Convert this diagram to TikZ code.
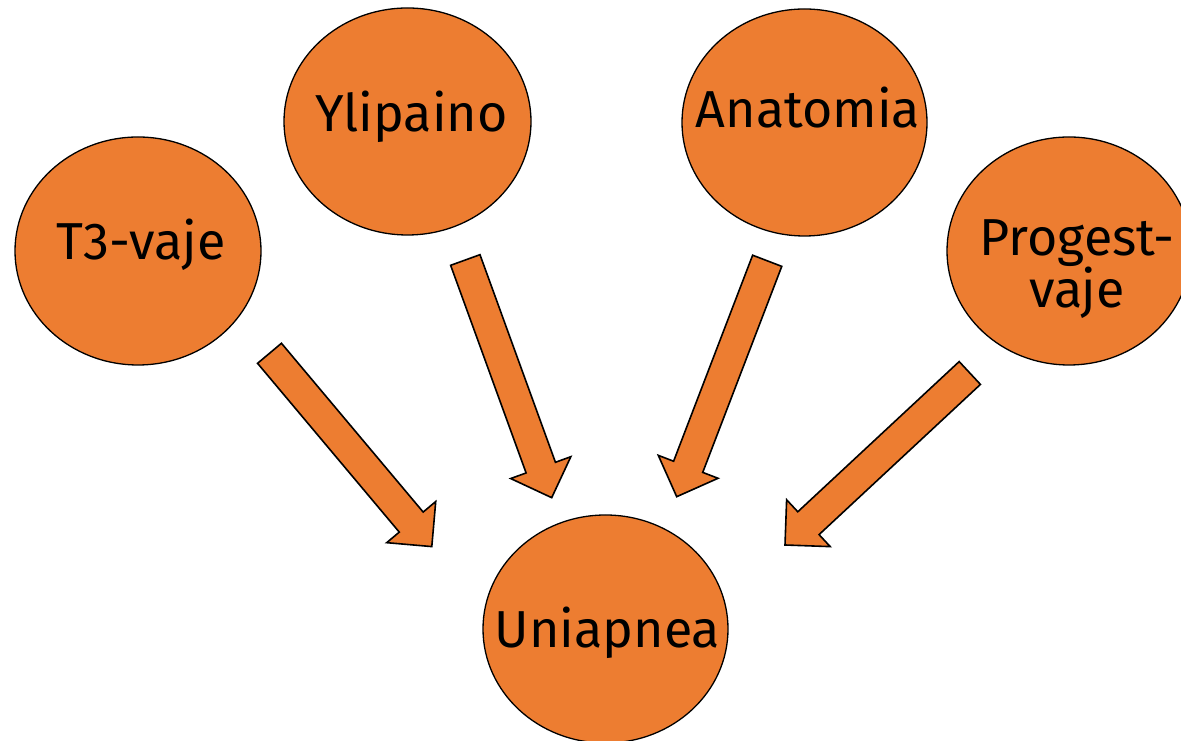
\documentclass[tikz,border=0pt]{standalone}
\usepackage{fontspec}
\setmainfont{Fira Sans}
\usetikzlibrary{shapes.geometric,calc}
\definecolor{bubbleorange}{RGB}{237,125,49}
\tikzset{
  bubble/.style={ellipse, draw=black, line width=1.3pt, fill=bubbleorange, inner sep=0pt},
  lbl/.style={font=\fontsize{52}{50}\selectfont, text=black, inner sep=0pt, anchor=base, align=center},
  blockarrow/.style={draw=black, line width=1.6pt, fill=bubbleorange, line join=miter},
}
\newcommand\blkarrow[1]{%
  \coordinate (#1n) at ($(#1e)!32pt!(#1s)$);
  \draw[blockarrow]
    ($(#1s)!15.6pt!90:(#1e)$) -- ($(#1n)!15.6pt!90:(#1e)$) -- ($(#1n)!32pt!90:(#1e)$)
    -- (#1e) -- ($(#1n)!32pt!-90:(#1e)$) -- ($(#1n)!15.6pt!-90:(#1e)$)
    -- ($(#1s)!15.6pt!-90:(#1e)$) -- cycle;
}
\begin{document}
\begin{tikzpicture}[x=1pt,y=1pt]
\useasboundingbox (0,0) rectangle (1181,741);
\clip (0,0) rectangle (1181,741);
% bubbles
\node[bubble, minimum width=246pt, minimum height=228pt] (t3) at (138,490) {};
\node[bubble, minimum width=247pt, minimum height=227pt] (ylip) at (407.5,619.5) {};
\node[bubble, minimum width=245pt, minimum height=227pt] (anat) at (804.5,618.5) {};
\node[bubble, minimum width=244pt, minimum height=228pt] (prog) at (1069,490) {};
\node[bubble, minimum width=245pt, minimum height=228pt] (unia) at (605.5,112) {};
% labels
\node[lbl] (t3t) at (141,481) {T3-vaje};
\node[lbl] (ylipt) at (411.5,609) {Ylipaino};
\node[lbl] (anatt) at (808,613) {Anatomia};
\node[lbl] (uniat) at (607.5,93) {Uniapnea};
\node[lbl] (progt) at (1077,433) {Progest-\\vaje};
% arrows
\coordinate (a1s) at (269.5,387.7); \coordinate (a1e) at (431.8,194.4);
\coordinate (a2s) at (465.3,481);   \coordinate (a2e) at (551.7,243.3);
\coordinate (a3s) at (767.2,480.2); \coordinate (a3e) at (676.7,244.3);
\coordinate (a4s) at (969.8,368);   \coordinate (a4e) at (785,196);
\blkarrow{a1}
\blkarrow{a2}
\blkarrow{a3}
\blkarrow{a4}
\end{tikzpicture}
\end{document}
